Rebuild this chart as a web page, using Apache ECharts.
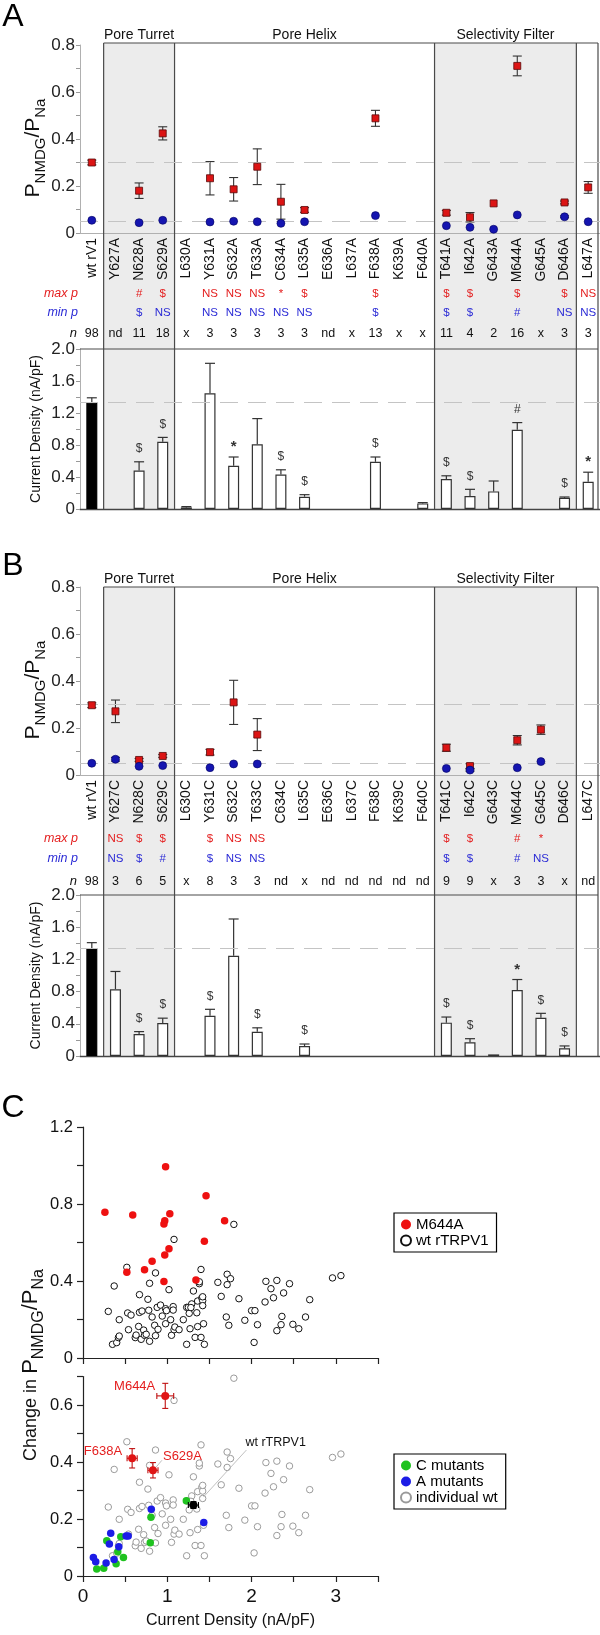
<!DOCTYPE html>
<html><head><meta charset="utf-8">
<script src="https://cdn.jsdelivr.net/npm/echarts@6/dist/echarts.min.js"></script>
<style>html,body{margin:0;padding:0;background:#fff}#c{width:600px;height:1635px}</style>
</head><body><div id="c"></div>
<script>
// ---------------- DATA ----------------
const catsA = ['wt rV1','Y627A','N628A','S629A','L630A','Y631A','S632A','T633A','C634A','L635A','E636A','L637A','F638A','K639A','F640A','T641A','I642A','G643A','M644A','G645A','D646A','L647A'];
const maxA    = [0.30, null, 0.18, 0.424, null, 0.233, 0.186, 0.282, 0.133, 0.098, null, null, 0.488, null, null, 0.086, 0.067, 0.126, 0.711, null, 0.13, 0.194];
const maxErrA = [0.01, null, 0.033, 0.028, null, 0.071, 0.05, 0.076, 0.074, 0.01, null, null, 0.034, null, null, 0.01, 0.02, 0, 0.042, null, 0.006, 0.025];
const minA    = [0.054, null, 0.044, 0.054, null, 0.047, 0.05, 0.048, 0.041, 0.048, null, null, 0.074, null, null, 0.031, 0.024, 0.016, 0.077, null, 0.069, 0.048];
const minErrA = [0, null, 0, 0, null, 0, 0, 0, 0, 0, null, null, 0, null, null, 0, 0, 0, 0, null, 0.004, 0];
const curA    = [1.33, null, 0.48, 0.84, 0.02, 1.446, 0.54, 0.81, 0.43, 0.154, null, null, 0.59, null, 0.07, 0.375, 0.163, 0.22, 0.99, null, 0.14, 0.34];
const curErrA = [0.06, null, 0.11, 0.055, 0.01, 0.375, 0.11, 0.32, 0.06, 0.025, null, null, 0.06, null, 0.01, 0.04, 0.083, 0.13, 0.09, null, 0.01, 0.12];
const sigCurA = ['', '', '$', '$', '', '', '*', '', '$', '$', '', '', '$', '', '', '$', '$', '', '#', '', '$', '*'];
const maxPA   = ['', '', '#', '$', '', 'NS', 'NS', 'NS', '*', '$', '', '', '$', '', '', '$', '$', '', '$', '', '$', 'NS'];
const minPA   = ['', '', '$', 'NS', '', 'NS', 'NS', 'NS', 'NS', 'NS', '', '', '$', '', '', '$', '$', '', '#', '', 'NS', 'NS'];
const nA      = ['98','nd','11','18','x','3','3','3','3','3','nd','x','13','x','x','11','4','2','16','x','3','3'];

const catsB = ['wt rV1','Y627C','N628C','S629C','L630C','Y631C','S632C','T633C','C634C','L635C','E636C','L637C','F638C','K639C','F640C','T641C','I642C','G643C','M644C','G645C','D646C','L647C'];
const maxB    = [0.297, 0.271, 0.064, 0.081, null, 0.097, 0.309, 0.172, null, null, null, null, null, null, null, 0.116, 0.038, null, 0.148, 0.193, null, null];
const maxErrB = [0.01, 0.048, 0.006, 0.006, null, 0.012, 0.094, 0.068, null, null, null, null, null, null, null, 0.015, 0.01, null, 0.02, 0.02, null, null];
const minB    = [0.05, 0.067, 0.037, 0.04, null, 0.031, 0.047, 0.047, null, null, null, null, null, null, null, 0.028, 0.021, null, 0.031, 0.057, null, null];
const minErrB = [0, 0.008, 0, 0, null, 0, 0, 0, null, null, null, null, null, null, null, 0, 0.005, null, 0, 0, null, null];
const curB    = [1.338, 0.83, 0.273, 0.41, null, 0.50, 1.246, 0.30, null, 0.124, null, null, null, null, null, 0.414, 0.17, 0.02, 0.82, 0.476, 0.095, null];
const curErrB = [0.07, 0.22, 0.03, 0.06, null, 0.08, 0.456, 0.05, null, 0.025, null, null, null, null, null, 0.07, 0.045, 0, 0.13, 0.054, 0.03, null];
const sigCurB = ['', '', '$', '$', '', '$', '', '$', '', '$', '', '', '', '', '', '$', '$', '', '*', '$', '$', ''];
const maxPB   = ['', 'NS', '$', '$', '', '$', 'NS', 'NS', '', '', '', '', '', '', '', '$', '$', '', '#', '*', '', ''];
const minPB   = ['', 'NS', '$', '#', '', '$', 'NS', 'NS', '', '', '', '', '', '', '', '$', '$', '', '#', 'NS', '', ''];
const nB      = ['98','3','6','5','x','8','3','3','nd','x','nd','nd','nd','nd','nd','9','9','x','3','3','x','nd'];

const regionNames = ['Pore Turret', 'Pore Helix', 'Selectivity Filter'];

// Panel C
const wtCurrent = [1.79,1.08,0.52,0.37,0.30,0.43,0.53,0.57,0.54,0.35,0.40,0.42,0.43,0.62,0.63,0.66,0.67,0.67,0.70,0.69,0.72,0.73,0.75,0.77,0.78,0.79,0.79,0.82,0.85,0.86,0.86,0.89,0.88,0.92,0.94,0.98,0.98,0.99,1.02,1.04,1.05,1.07,1.07,1.08,1.09,1.14,1.19,1.23,1.23,1.25,1.26,1.27,1.29,1.31,1.33,1.35,1.36,1.36,1.38,1.38,1.40,1.41,1.42,1.42,1.40,1.43,1.44,1.60,1.64,1.70,1.71,1.71,1.73,1.75,1.85,1.92,2.00,2.04,2.03,2.07,2.16,2.17,2.23,2.26,2.30,2.30,2.36,2.35,2.38,2.45,2.49,2.56,2.64,2.69,2.96,3.06,1.28,1.42];
const wtChange  = [0.694,0.616,0.471,0.374,0.242,0.199,0.234,0.223,0.147,0.071,0.080,0.106,0.114,0.106,0.119,0.164,0.329,0.237,0.244,0.097,0.145,0.118,0.123,0.305,0.248,0.087,0.388,0.213,0.170,0.442,0.116,0.149,0.263,0.275,0.218,0.256,0.178,0.246,0.355,0.199,0.118,0.267,0.249,0.147,0.161,0.147,0.199,0.263,0.071,0.263,0.232,0.152,0.281,0.348,0.107,0.235,0.163,0.296,0.386,0.396,0.460,0.312,0.298,0.272,0.107,0.178,0.071,0.393,0.320,0.213,0.435,0.381,0.170,0.412,0.308,0.196,0.246,0.246,0.081,0.173,0.291,0.398,0.360,0.313,0.403,0.142,0.216,0.173,0.338,0.386,0.175,0.152,0.213,0.303,0.416,0.428,0.262,0.318];
const m644Current = [0.26,0.59,0.98,1.03,0.97,0.96,1.46,1.68,1.44,1.02,0.97,0.82,0.73,0.52,0.96,1.34];
const m644Change  = [0.757,0.743,0.994,0.75,0.713,0.696,0.843,0.713,0.606,0.568,0.535,0.502,0.459,0.445,0.398,0.405];
const cMutCurrent = [1.226,0.806,0.798,0.282,0.448,0.413,0.480,0.393,0.163,0.246];
const cMutChange  = [0.264,0.206,0.117,0.124,0.138,0.085,0.065,0.043,0.025,0.027];
const aMutCurrent = [0.810,1.433,0.329,0.512,0.536,0.313,0.425,0.369,0.274,0.123,0.151];
const aMutChange  = [0.234,0.188,0.150,0.140,0.140,0.112,0.103,0.058,0.046,0.065,0.050];
const meanNames   = ['M644A','F638A','S629A','wt rTRPV1'];
const meanCurrent = [0.976,0.583,0.83,1.31];
const meanChange  = [0.632,0.413,0.371,0.249];
const meanCurErr  = [0.10,0.06,0.06,0.06];
const meanChgErr  = [0.044,0.034,0.027,0.012];

// ---------------- LAYOUT / STYLE ----------------
const FONT = '"Liberation Sans", Arial, Helvetica, sans-serif';
const L = 80, W = 520, NCAT = 22, BAND = W / NCAT, RIGHT = 598;
const RED_T = '#e41e1e', BLUE_T = '#2b2bd6', FRAME = '#4a4a4a', SHADE = '#ececec';
const bx = k => L + k * BAND;

const grids = [], xAxes = [], yAxes = [], series = [], graphics = [];

function vErr(params, api) {
  const x = api.value(0), y = api.value(1), e = api.value(2);
  if (!e) return null;
  const t = api.coord([x, y + e]), b = api.coord([x, y - e]);
  const c = 4.5;
  const st = () => ({stroke: '#333', lineWidth: 1.1});
  return {type: 'group', children: [
    {type: 'line', shape: {x1: t[0], y1: t[1], x2: b[0], y2: b[1]}, style: st()},
    {type: 'line', shape: {x1: t[0] - c, y1: t[1], x2: t[0] + c, y2: t[1]}, style: st()},
    {type: 'line', shape: {x1: b[0] - c, y1: b[1], x2: b[0] + c, y2: b[1]}, style: st()}
  ]};
}

function makeBarErr(sig) {
  return function (params, api) {
    const i = api.value(0), y = api.value(1), e = api.value(2);
    const base = api.coord([i, y]), top = api.coord([i, y + e]);
    const ch = [];
    if (e > 0) {
      ch.push({type: 'line', shape: {x1: base[0], y1: base[1], x2: top[0], y2: top[1]}, style: {stroke: '#333', lineWidth: 1.2}});
      ch.push({type: 'line', shape: {x1: top[0] - 5, y1: top[1], x2: top[0] + 5, y2: top[1]}, style: {stroke: '#333', lineWidth: 1.2}});
    }
    const s = sig[i];
    if (s) ch.push({type: 'text', x: top[0], y: top[1] - (s === '*' ? 10 : 13),
      style: {text: s, fill: '#333', font: (s === '*' ? 'bold 15px ' : '12px ') + FONT,
        align: 'center', verticalAlign: 'middle', textAlign: 'center', textVerticalAlign: 'middle'}});
    return {type: 'group', children: ch};
  };
}

function gText(x, y, text, opt) {
  opt = opt || {};
  const el = {type: 'text', x: x, y: y, silent: true, z: 20,
    style: Object.assign({text: text, fill: opt.fill || '#111', font: opt.font || ('14px ' + FONT),
      align: opt.align || 'center', verticalAlign: 'middle',
      textAlign: opt.align || 'center', textVerticalAlign: 'middle'}, opt.rich ? {rich: opt.rich} : {})};
  if (opt.rotation) el.rotation = opt.rotation;
  return el;
}
function hLine(x1, x2, y, col, w) { return {type: 'line', silent: true, z: 1, shape: {x1: x1, y1: y, x2: x2, y2: y}, style: {stroke: col || FRAME, lineWidth: w || 1.2}}; }
function vLine(x, y1, y2, col, w) { return {type: 'line', silent: true, z: 1, shape: {x1: x, y1: y1, x2: x, y2: y2}, style: {stroke: col || FRAME, lineWidth: w || 1.2}}; }

const yRichSmall = {
  p: {fontSize: 21, lineHeight: 30, fontFamily: FONT, fill: '#111', color: '#111'},
  s: {fontSize: 15, lineHeight: 14, verticalAlign: 'bottom', fontFamily: FONT, fill: '#111', color: '#111'}
};

function addPanel(p) {
  const gTop = grids.length;
  grids.push({left: L, top: p.top, width: W, height: p.h});
  grids.push({left: L, top: p.barTop, width: W, height: p.barH});
  const xMain = xAxes.length;
  xAxes.push({type: 'category', gridIndex: gTop, data: p.cats, boundaryGap: true,
    axisLine: {lineStyle: {color: '#b0b0b0', width: 1}},
    axisTick: {length: 6, interval: 0, lineStyle: {color: '#bbbbbb'}},
    axisLabel: {rotate: 90, interval: 0, fontSize: 14, color: '#111', margin: 5, fontFamily: FONT}});
  const rows = [[p.maxP, RED_T], [p.minP, BLUE_T], [p.n, '#111']];
  rows.forEach((r, k) => {
    xAxes.push({type: 'category', gridIndex: gTop, data: p.cats, position: 'bottom', offset: p.rowOff[k],
      axisLine: {show: false}, axisTick: {show: false},
      axisLabel: {interval: 0, margin: 0, fontSize: k === 2 ? 12.5 : 11.5, color: r[1], fontFamily: FONT,
        formatter: (v, i) => r[0][i]}});
  });
  const xBar = xAxes.length;
  xAxes.push({type: 'category', gridIndex: gTop + 1, data: p.cats, boundaryGap: true,
    axisLine: {lineStyle: {color: '#444', width: 1.3}},
    axisTick: {length: 6, interval: 0, lineStyle: {color: '#bbbbbb'}},
    axisLabel: {show: false}});
  const yTop = yAxes.length;
  const yCommon = {type: 'value', splitLine: {show: false},
    axisLine: {show: true, lineStyle: {color: '#b0b0b0'}},
    axisTick: {show: true, length: 4, lineStyle: {color: '#999'}},
    minorTick: {show: true, splitNumber: 2, length: 4, lineStyle: {color: '#999'}},
    axisLabel: {fontSize: 17, color: '#222', margin: 5, fontFamily: FONT,
      formatter: v => v === 0 ? '0' : v.toFixed(1)}};
  yAxes.push(Object.assign({gridIndex: gTop, min: 0, max: 0.8, interval: 0.2}, yCommon));
  yAxes.push(Object.assign({gridIndex: gTop + 1, min: 0, max: 2, interval: 0.4}, yCommon));

  // error bars (max) + dashed reference lines at wt values
  const maxErrData = [], maxData = [], minData = [], minErrData = [];
  p.max.forEach((v, i) => { if (v != null) { maxData.push([i, v]); maxErrData.push([i, v, p.maxErr[i] || 0]); } });
  p.min.forEach((v, i) => { if (v != null) { minData.push([i, v]); minErrData.push([i, v, p.minErr[i] || 0]); } });
  series.push({type: 'custom', xAxisIndex: xMain, yAxisIndex: yTop, renderItem: vErr, data: maxErrData, z: 3, silent: true,
    markLine: {silent: true, symbol: 'none', label: {show: false}, animation: false,
      lineStyle: {color: '#c4c4c4', type: [18, 10], width: 1},
      data: [{yAxis: p.max[0]}, {yAxis: p.min[0]}]}});
  series.push({type: 'custom', xAxisIndex: xMain, yAxisIndex: yTop, renderItem: vErr, data: minErrData, z: 3, silent: true});
  series.push({type: 'scatter', xAxisIndex: xMain, yAxisIndex: yTop, data: maxData, symbol: 'rect', symbolSize: 7, z: 5, silent: true,
    itemStyle: {color: '#dc1414', borderColor: '#5a0a0a', borderWidth: 0.8, opacity: 1}});
  series.push({type: 'scatter', xAxisIndex: xMain, yAxisIndex: yTop, data: minData, symbol: 'circle', symbolSize: 8, z: 5, silent: true,
    itemStyle: {color: '#1515b0', borderColor: '#000060', borderWidth: 0.6, opacity: 1}});

  // bars
  const barData = p.cur.map((v, i) => v == null ? null : (i === 0 ? {value: v, itemStyle: {color: '#000', borderColor: '#000'}} : v));
  series.push({type: 'bar', xAxisIndex: xBar, yAxisIndex: yTop + 1, data: barData, barWidth: 11, z: 3, silent: true,
    itemStyle: {color: '#fff', borderColor: '#333', borderWidth: 1.2},
    markLine: {silent: true, symbol: 'none', label: {show: false}, animation: false,
      lineStyle: {color: '#c4c4c4', type: [18, 10], width: 1}, data: [{yAxis: p.cur[0]}]}});
  const barErrData = [];
  p.cur.forEach((v, i) => { if (v != null) barErrData.push([i, v, p.curErr[i] || 0]); });
  series.push({type: 'custom', xAxisIndex: xBar, yAxisIndex: yTop + 1, renderItem: makeBarErr(p.sig), data: barErrData, z: 4, silent: true});

  // decorations
  const bottom = p.barTop + p.barH;
  graphics.push({type: 'rect', silent: true, z: -1, shape: {x: bx(1), y: p.hdr, width: bx(4) - bx(1), height: bottom - p.hdr}, style: {fill: SHADE}});
  graphics.push({type: 'rect', silent: true, z: -1, shape: {x: bx(15), y: p.hdr, width: bx(21) - bx(15), height: bottom - p.hdr}, style: {fill: SHADE}});
  graphics.push(hLine(bx(1), RIGHT, p.hdr));
  graphics.push(hLine(L, RIGHT, p.barTop));
  [bx(1), bx(4), bx(15), bx(21), RIGHT].forEach(x => graphics.push(vLine(x, p.hdr, bottom)));
  graphics.push(gText((bx(1) + bx(4)) / 2, p.hdr - 8, regionNames[0], {font: '14px ' + FONT}));
  graphics.push(gText((bx(4) + bx(15)) / 2, p.hdr - 8, regionNames[1], {font: '14px ' + FONT}));
  graphics.push(gText((bx(15) + bx(21)) / 2, p.hdr - 8, regionNames[2], {font: '14px ' + FONT}));
  const axisY = p.top + p.h;
  graphics.push(gText(78, axisY + p.rowOff[0] + 6, 'max p', {align: 'right', fill: RED_T, font: 'italic 12.5px ' + FONT}));
  graphics.push(gText(78, axisY + p.rowOff[1] + 6, 'min p', {align: 'right', fill: BLUE_T, font: 'italic 12.5px ' + FONT}));
  graphics.push(gText(77, axisY + p.rowOff[2] + 6, 'n', {align: 'right', fill: '#111', font: 'italic 13px ' + FONT}));
  graphics.push(gText(13, p.letterY, p.letter, {font: '32px ' + FONT, fill: '#000'}));
  graphics.push(gText(33, p.top + 103, '{p|P}{s|NMDG}{p|/P}{s|Na}', {rotation: Math.PI / 2, rich: yRichSmall}));
  graphics.push(gText(36, p.barTop + p.barH / 2, 'Current Density (nA/pF)', {rotation: Math.PI / 2, font: '14px ' + FONT}));
}

addPanel({letter: 'A', letterY: 17, hdr: 43, top: 45, h: 188, barTop: 349, barH: 160, rowOff: [55, 74, 94],
  cats: catsA, max: maxA, maxErr: maxErrA, min: minA, minErr: minErrA, cur: curA, curErr: curErrA,
  sig: sigCurA, maxP: maxPA, minP: minPA, n: nA});
addPanel({letter: 'B', letterY: 566, hdr: 587, top: 587, h: 188, barTop: 895, barH: 161, rowOff: [58, 78, 100],
  cats: catsB, max: maxB, maxErr: maxErrB, min: minB, minErr: minErrB, cur: curB, curErr: curErrB,
  sig: sigCurB, maxP: maxPB, minP: minPB, n: nB});

// ---------------- PANEL C ----------------
const gC1 = grids.length;
grids.push({left: 83, top: 1127, width: 295, height: 231});
grids.push({left: 83, top: 1376.5, width: 295, height: 199.5});
const cAxisLine = {show: true, lineStyle: {color: '#222', width: 1.2}};
const cTick = {show: true, length: 6, lineStyle: {color: '#222', width: 1.2}};
const xC1 = xAxes.length;
xAxes.push({type: 'value', gridIndex: gC1, min: 0, max: 3.5, interval: 0.5, splitLine: {show: false},
  axisLine: cAxisLine, axisTick: cTick, axisLabel: {show: false}});
xAxes.push({type: 'value', gridIndex: gC1 + 1, min: 0, max: 3.5, interval: 0.5, splitLine: {show: false},
  axisLine: cAxisLine, axisTick: cTick,
  axisLabel: {fontSize: 19, color: '#111', margin: 11, fontFamily: FONT, formatter: v => (Math.abs(v - Math.round(v)) < 1e-6 ? String(Math.round(v)) : '')},
  name: 'Current Density (nA/pF)', nameLocation: 'middle', nameGap: 37,
  nameTextStyle: {fontSize: 16, color: '#111', fontFamily: FONT}});
const yC1 = yAxes.length;
yAxes.push({type: 'value', gridIndex: gC1, min: 0, max: 1.2, interval: 0.4, splitLine: {show: false},
  axisLine: cAxisLine, axisTick: cTick, minorTick: {show: true, splitNumber: 2, length: 6, lineStyle: {color: '#222', width: 1.2}},
  axisLabel: {fontSize: 16.5, color: '#111', margin: 10, fontFamily: FONT, formatter: v => v === 0 ? '0' : v.toFixed(1)}});
yAxes.push({type: 'value', gridIndex: gC1 + 1, min: 0, max: 0.7, interval: 0.1, splitLine: {show: false},
  axisLine: cAxisLine, axisTick: cTick,
  axisLabel: {fontSize: 16.5, color: '#111', margin: 10, fontFamily: FONT,
    formatter: v => { const k = Math.round(v * 10); return k % 2 ? '' : (k === 0 ? '0' : (k / 10).toFixed(1)); }}});

const zip = (a, b) => a.map((v, i) => [v, b[i]]);
series.push({name: 'wt rTRPV1', type: 'scatter', xAxisIndex: xC1, yAxisIndex: yC1, data: zip(wtCurrent, wtChange), symbolSize: 6.5, z: 3, silent: true,
  itemStyle: {color: '#ffffff', borderColor: '#111', borderWidth: 1, opacity: 1}});
series.push({name: 'M644A', type: 'scatter', xAxisIndex: xC1, yAxisIndex: yC1, data: zip(m644Current, m644Change), symbolSize: 7.5, z: 4, silent: true,
  itemStyle: {color: '#ee1111', opacity: 1}});
series.push({name: 'individual wt', type: 'scatter', xAxisIndex: xC1 + 1, yAxisIndex: yC1 + 1, data: zip(wtCurrent, wtChange), symbolSize: 6.5, z: 3, silent: true,
  itemStyle: {color: '#ffffff', borderColor: '#9a9a9a', borderWidth: 1, opacity: 1}});
series.push({name: 'C mutants', type: 'scatter', xAxisIndex: xC1 + 1, yAxisIndex: yC1 + 1, data: zip(cMutCurrent, cMutChange), symbolSize: 7.5, z: 4, silent: true,
  itemStyle: {color: '#1fc21f', opacity: 1}});
series.push({name: 'A mutants', type: 'scatter', xAxisIndex: xC1 + 1, yAxisIndex: yC1 + 1, data: zip(aMutCurrent, aMutChange), symbolSize: 7.5, z: 4, silent: true,
  itemStyle: {color: '#1c1ce6', opacity: 1}});

const PLACE = {
  'M644A': {dx: -10, dy: -9, align: 'right'},
  'F638A': {dx: -10, dy: -7, align: 'right'},
  'S629A': {dx: 10, dy: -14, align: 'left', lead: [[9, -10], [3, -3]]},
  'wt rTRPV1': {dx: 52, dy: -62, align: 'left', lead: [[53, -55], [10, -8]]}
};
function meanRender(params, api) {
  const x = api.value(0), y = api.value(1), xe = api.value(2), ye = api.value(3), i = api.value(4);
  const name = meanNames[i];
  const isWt = name === 'wt rTRPV1';
  const col = isWt ? '#000' : '#e01414';
  const ecol = isWt ? '#000' : '#c01010';
  const p = api.coord([x, y]), l = api.coord([x - xe, y]), r = api.coord([x + xe, y]);
  const t = api.coord([x, y + ye]), b = api.coord([x, y - ye]);
  const st = () => ({stroke: ecol, lineWidth: 1.1});
  const c = 3;
  const ch = [
    {type: 'line', shape: {x1: l[0], y1: l[1], x2: r[0], y2: r[1]}, style: st()},
    {type: 'line', shape: {x1: l[0], y1: l[1] - c, x2: l[0], y2: l[1] + c}, style: st()},
    {type: 'line', shape: {x1: r[0], y1: r[1] - c, x2: r[0], y2: r[1] + c}, style: st()},
    {type: 'line', shape: {x1: t[0], y1: t[1], x2: b[0], y2: b[1]}, style: st()},
    {type: 'line', shape: {x1: t[0] - c, y1: t[1], x2: t[0] + c, y2: t[1]}, style: st()},
    {type: 'line', shape: {x1: b[0] - c, y1: b[1], x2: b[0] + c, y2: b[1]}, style: st()},
    {type: 'circle', shape: {cx: p[0], cy: p[1], r: 4}, style: {fill: col}}
  ];
  const pl = PLACE[name];
  if (pl.lead) ch.push({type: 'line', shape: {x1: p[0] + pl.lead[0][0], y1: p[1] + pl.lead[0][1], x2: p[0] + pl.lead[1][0], y2: p[1] + pl.lead[1][1]}, style: {stroke: '#b0b0b0', lineWidth: 0.8}});
  ch.push({type: 'text', x: p[0] + pl.dx, y: p[1] + pl.dy,
    style: {text: name, fill: isWt ? '#111' : '#e41e1e', font: (isWt ? '12.5px ' : '13px ') + FONT,
      align: pl.align, verticalAlign: 'middle', textAlign: pl.align, textVerticalAlign: 'middle'}});
  return {type: 'group', children: ch};
}
series.push({type: 'custom', xAxisIndex: xC1 + 1, yAxisIndex: yC1 + 1, renderItem: meanRender, z: 6, silent: true,
  data: meanNames.map((n, i) => [meanCurrent[i], meanChange[i], meanCurErr[i], meanChgErr[i], i])});

graphics.push(gText(13, 1108, 'C', {font: '32px ' + FONT, fill: '#000'}));
graphics.push(gText(31, 1365, '{n|Change in }{p|P}{s|NMDG}{p|/P}{s|Na}', {rotation: Math.PI / 2, rich: {
  n: {fontSize: 18, lineHeight: 32, fontFamily: FONT, fill: '#111', color: '#111'},
  p: {fontSize: 22, lineHeight: 32, fontFamily: FONT, fill: '#111', color: '#111'},
  s: {fontSize: 16, lineHeight: 15, verticalAlign: 'bottom', fontFamily: FONT, fill: '#111', color: '#111'}}}));

const legendCommon = {orient: 'vertical', selectedMode: false, borderColor: '#000', borderWidth: 1.2, borderRadius: 0,
  padding: [4, 8, 4, 6], itemGap: 1, itemWidth: 10, itemHeight: 10, icon: 'circle',
  textStyle: {fontSize: 15, color: '#000', fontFamily: FONT}};

const chart = echarts.init(document.getElementById('c'), null, {renderer: 'canvas', width: 600, height: 1635});
chart.setOption({
  animation: false,
  textStyle: {fontFamily: FONT},
  grid: grids, xAxis: xAxes, yAxis: yAxes, series: series,
  legend: [
    Object.assign({left: 394, top: 1213, data: ['M644A', 'wt rTRPV1']}, legendCommon),
    Object.assign({left: 394, top: 1454, data: ['C mutants', 'A mutants', 'individual wt']}, legendCommon)
  ],
  graphic: {elements: graphics}
});
</script></body></html>
